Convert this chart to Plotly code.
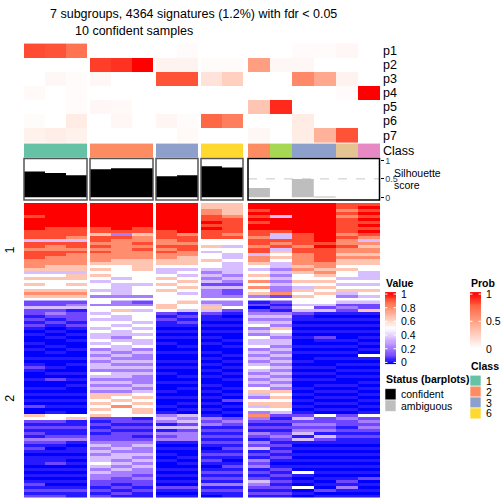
import numpy as np
import plotly.graph_objects as go

# ---------------- data ----------------
title_main = "7 subgroups, 4364 signatures (1.2%) with fdr < 0.05"
title_conf = "10 confident samples"

classes = [1, 1, 1, 2, 2, 2, 3, 3, 6, 6, 2, 5, 3, 3, 7, 4]
confident = [True] * 10 + [False] * 6
silhouette = [0.70, 0.66, 0.60, 0.76, 0.79, 0.79, 0.57, 0.60, 0.84, 0.81,
              0.25, 0.0, 0.50, 0.02, 0.0, 0.0]

prob_labels = ["p1", "p2", "p3", "p4", "p5", "p6", "p7"]
p1 = [0.82, 0.80, 0.70, 0, 0, 0, 0, 0.02, 0, 0, 0, 0, 0.02, 0.02, 0.04, 0]
p2 = [0, 0, 0, 0.85, 0.88, 1.0, 0.06, 0.06, 0.02, 0.02, 0.50, 0.04, 0.04, 0, 0, 0]
p3 = [0, 0.04, 0.02, 0.04, 0, 0, 0.80, 0.80, 0.15, 0.25, 0, 0, 0.60, 0.45, 0.06, 0]
p4 = [0.03, 0, 0.02, 0, 0, 0, 0, 0, 0, 0, 0, 0, 0, 0, 0.02, 1.0]
p5 = [0, 0, 0.02, 0.04, 0.03, 0, 0, 0, 0, 0, 0.30, 0.90, 0, 0, 0, 0]
p6 = [0.02, 0, 0.10, 0, 0.04, 0, 0.05, 0.02, 0.75, 0.65, 0, 0, 0.10, 0, 0, 0]
p7 = [0.07, 0.09, 0.07, 0, 0, 0, 0, 0.03, 0, 0, 0.04, 0, 0.10, 0.40, 0.80, 0]
prob = [p1, p2, p3, p4, p5, p6, p7]

class_colors = {1: "#66C2A5", 2: "#FC8D62", 3: "#8DA0CB", 4: "#E78AC3",
                5: "#A6D854", 6: "#FFD92F", 7: "#E5C494"}
legend_classes = [1, 2, 3, 6]
row_group_labels = ["1", "2"]
value_ticks = [1, 0.8, 0.6, 0.4, 0.2, 0]
prob_ticks = [1, 0.5, 0]
sil_ticks = [0, 0.5, 1]

# signature values, one string per sample (digit -> level)
levels = [0.0, 0.04, 0.11, 0.22, 0.36, 0.50, 0.65, 0.79, 0.91, 1.0]
sig_top = [
    "999989999888" "4" "8878887776" "4" "56565676",
    "999999998888" "4" "8778877766" "4" "56555676",
    "999999998887" "4" "8878777766" "4" "66565676",
    "9999999988" "6" "887878777" "6" "56565455453",
    "9999999998" "3" "877777776" "6" "55554544443",
    "9999999988" "6" "778787776" "6" "66555545553",
    "9999999998" "8" "8778787766" "5445" "6565655",
    "9999999999" "7" "8878877666" "5454" "5656545",
    "6677" "88989888" "5565455655" "4343424333",
    "6666" "78888878" "5545544544" "4434324223",
    "9989898998" "878878847" "765" "4565757563",
    "9999499998" "44" "878" "4" "6565" "4434343433" "72",
    "9999999999" "8888788777" "7676" "5565" "4656",
    "9999999999999" "8988888" "7767" "6565" "6565",
    "8878788888" "7877877676" "6565" "5454" "5643",
    "8989898989" "87" "4" "7677676" "655" "4445" "45654",
]
sig_bottom = [
    "22" "4" "221212" "10100101001012100100101010200" "65" "21212132121011101010121212",
    "22" "4" "232121" "01010010101001010200101010101" "55" "21211232101011201010101212",
    "23" "4" "122212" "10101001001010010101001010100" "56" "11211231011010101010101211",
    "53" "5545" "4554544545" "343434435434343" "66565656" "21212122" "34343445434332" "21212",
    "33" "5654" "4545443454" "434343434434343" "65657555" "22121222" "33434434343322" "12121",
    "23" "5455" "5454545445" "343343434333434" "56565665" "12121212" "34334343433232" "21211",
    "56" "65" "2121101010100100101010010010100101" "343141323" "1010101001010102101",
    "65" "54" "1212101010010100101001010100101010" "434242333" "1010010101010102101",
    "34" "6" "4" "21101010101001010101010010101010101" "323" "1212121012121012121" "3" "1210",
    "33" "5" "2" "10101010010100101010101001010201010" "232" "1212121212101212121" "3" "1211",
    "1202" "3434534354453434345434343564356" "453" "7" "3" "21213213241213231212432121",
    "2121" "3434365434434343434343434365656" "65" "4" "2121212321212121012121212121",
    "5454" "2110101010010100101010100101010101" "242323414" "1010101010510105010",
    "5424" "1010101021010101001010101010101010" "522323142" "1010101010101010201",
    "4232" "1010101001010101010101001010101010" "232212121" "1010101010101213101",
    "4226" "1010101010101051010101010101010101" "523232121" "1010101010102010101",
]


def decode(strings):
    n = max(len(s) for s in strings)
    cols = []
    for s in strings:
        s = s.ljust(n, s[-1])
        cols.append([levels[int(ch)] for ch in s])
    return np.array(cols).T  # rows x samples


Z_top = decode(sig_top)
Z_bot = decode(sig_bottom)

# ---------------- layout constants (pixels) ----------------
W = H = 504
FONT = "Liberation Sans, Arial, sans-serif"
col_groups = [[0, 1, 2], [3, 4, 5], [6, 7], [8, 9], [10, 11, 12, 13, 14, 15]]
group_x = [(24, 87), (90, 153), (156, 198), (201, 243), (248, 379.5)]
prob_y = (41, 141)
class_y = (142, 156)
sil_y = (157, 199)
sil_zero_px, sil_one_px = 196.3, 159.0
main_y = [(202, 298), (300.5, 499)]

main_cs = [[0, "#0000FF"], [0.125, "#7E51FF"], [0.25, "#B38BFF"], [0.375, "#DCC5FF"],
           [0.5, "#FFFFFF"], [0.625, "#FFCFBF"], [0.75, "#FF9E81"], [0.875, "#FF6846"],
           [1, "#FF0000"]]
prob_cs = [[0, "#FFFFFF"], [0.25, "#FFCFBF"], [0.5, "#FF9E81"], [0.75, "#FF6846"],
           [1, "#FF0000"]]
class_cs = []
for k in range(1, 8):
    class_cs.append([(k - 1) / 7, class_colors[k]])
    class_cs.append([k / 7, class_colors[k]])

fig = go.Figure()

def hm(z, xe, ye, cs, zmin, zmax):
    fig.add_trace(go.Heatmap(z=z, x=list(xe), y=list(ye), colorscale=cs, zmin=zmin, zmax=zmax,
                             showscale=False, hoverinfo="skip", xaxis="x", yaxis="y"))

centers, widths = [], []
for cols, (gx0, gx1) in zip(col_groups, group_x):
    xe = np.linspace(gx0, gx1, len(cols) + 1)
    centers += list((xe[:-1] + xe[1:]) / 2)
    widths += list(np.diff(xe))
    hm([[p[c] for c in cols] for p in prob], xe, np.linspace(*prob_y, len(prob) + 1), prob_cs, 0, 1)
    hm([[classes[c] for c in cols]], xe, list(class_y), class_cs, 0.5, 7.5)
    for Z, (y0, y1) in zip([Z_top, Z_bot], main_y):
        hm(Z[:, cols], xe, np.linspace(y0, y1, Z.shape[0] + 1), main_cs, 0, 1)

# silhouette bars
fig.add_trace(go.Bar(x=centers, y=silhouette, width=widths,
                     marker=dict(color=["black" if c else "#BEBEBE" for c in confident], line_width=0),
                     hoverinfo="skip", xaxis="x", yaxis="y2", showlegend=False))

shapes = []
for i, (gx0, gx1) in enumerate(group_x):
    amb = i == len(group_x) - 1
    shapes.append(dict(type="line", xref="x", yref="y2", x0=gx0, x1=gx1, y0=0.5, y1=0.5,
                       line=dict(color="#C8C8C8", width=1, dash="dash"), layer="below"))
    shapes.append(dict(type="rect", xref="x", yref="y", x0=gx0, x1=gx1, y0=sil_y[0], y1=sil_y[1],
                       line=dict(color="black" if amb else "#555555", width=1.5),
                       fillcolor="rgba(0,0,0,0)", layer="above"))

# ---------- legends ----------
vx, vy, vlab = (385, 396), (292, 365), (294, 363)
n = 60
hm([[v] for v in np.linspace(1, 0, n)], vx, np.linspace(*vy, n + 1), main_cs, 0, 1)
px, py, plab = (470, 481), (292, 350), (294, 349)
hm([[v] for v in np.linspace(1, 0, n)], px, np.linspace(*py, n + 1), prob_cs, 0, 1)

annotations = []
def txt(x, y, s, size=11, bold=False, xanchor="left", angle=0, color="black"):
    annotations.append(dict(x=x, y=y, xref="x", yref="y", text=("<b>%s</b>" % s) if bold else s,
                            showarrow=False, xanchor=xanchor, yanchor="middle", textangle=angle,
                            borderpad=0, font=dict(family=FONT, size=size, color=color)))

def tick_marks(xr, lr, ticks):
    for t in ticks:
        yy = lr[1] - t * (lr[1] - lr[0])
        for xa, xb in [(xr[0], xr[0] + 2.5), (xr[1] - 2.5, xr[1])]:
            shapes.append(dict(type="line", xref="x", yref="y", x0=xa, x1=xb, y0=yy, y1=yy,
                               line=dict(color="white", width=1), layer="above"))
        txt(xr[1] + 4, yy, ("%g" % t), size=10.5)

txt(385, 282.5, "Value", size=10.5, bold=True)
tick_marks(vx, vlab, value_ticks)
txt(470, 282.5, "Prob", size=10.5, bold=True)
tick_marks(px, plab, prob_ticks)

txt(470, 367, "Class", size=10.5, bold=True)
for i, k in enumerate(legend_classes):
    y0 = 376 + 11 * i
    shapes.append(dict(type="rect", xref="x", yref="y", x0=470, x1=481, y0=y0, y1=y0 + 11,
                       fillcolor=class_colors[k], line=dict(color="white", width=0.6)))
    txt(485, y0 + 5.5, str(k), size=10.5)

txt(385, 380, "Status (barplots)", size=10.5, bold=True)
for i, (lab, colr) in enumerate([("confident", "black"), ("ambiguous", "#BEBEBE")]):
    y0 = 389.5 + 11.5 * i
    shapes.append(dict(type="rect", xref="x", yref="y", x0=385, x1=396, y0=y0, y1=y0 + 11.5,
                       fillcolor=colr, line=dict(color="white", width=0.6)))
    txt(400, y0 + 5.7, lab, size=10.5)

# titles and labels
txt(193, 11, title_main, size=12.5, xanchor="center")
txt(133.5, 28.5, title_conf, size=12.5, xanchor="center")
prob_edges = np.linspace(*prob_y, len(prob) + 1)
for i, lab in enumerate(prob_labels):
    txt(382, (prob_edges[i] + prob_edges[i + 1]) / 2, lab, size=12.5)
txt(382, sum(class_y) / 2, "Class", size=12.5)
txt(393, 172, "Silhouette", size=10.5)
txt(393, 184, "score", size=10.5)
for lab, (y0, y1) in zip(row_group_labels, main_y):
    txt(10, (y0 + y1) / 2, lab, size=12.5, xanchor="center", angle=-90)

fig.update_layout(
    width=W, height=H, margin=dict(l=0, r=0, t=0, b=0),
    paper_bgcolor="white", plot_bgcolor="white", showlegend=False,
    font=dict(family=FONT),
    xaxis=dict(range=[0, W], domain=[0, 1], visible=False, fixedrange=True),
    yaxis=dict(range=[H, 0], domain=[0, 1], visible=False, fixedrange=True),
    yaxis2=dict(domain=[1 - sil_y[1] / H, 1 - sil_y[0] / H],
                range=[-(sil_y[1] - sil_zero_px) / (sil_zero_px - sil_one_px),
                       (sil_zero_px - sil_y[0]) / (sil_zero_px - sil_one_px)],
                anchor="free", position=379.5 / W, side="right", showgrid=False, zeroline=False,
                showline=False, ticks="outside", ticklen=3, tickcolor="black",
                tickvals=sil_ticks, ticktext=["%g" % t for t in sil_ticks],
                tickfont=dict(family=FONT, size=9), fixedrange=True),
    shapes=shapes, annotations=annotations,
)

fig.write_html("out.html", config={"displayModeBar": False},
               post_script="document.body.style.margin='0';document.body.style.overflow='hidden';")
